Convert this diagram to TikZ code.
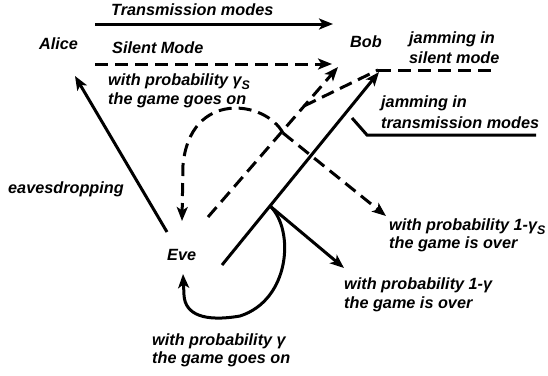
\documentclass[tikz,border=0pt]{standalone}
\usepackage{fontspec}
\setmainfont{Liberation Sans}
\usetikzlibrary{arrows.meta}
\newcommand\gSub{γ\raisebox{-4bp}{\fontsize{12.5}{12.5}\selectfont S}}
\begin{document}
\begin{tikzpicture}[x=1bp,y=-1bp,
  lbl/.style={anchor=base west, inner sep=0pt, font=\fontsize{16.3}{18}\selectfont\bfseries\itshape},
  ln/.style={line width=3bp},
  dsh/.style={ln, dash pattern=on 13bp off 7bp},
  arr/.style={-{Stealth[length=14bp,width=11bp,inset=3.5bp]}},
]
\useasboundingbox[fill=white] (0,0) rectangle (548,375);
% labels
\node[lbl] (tm) at (111,15) {Transmission modes};
\node[lbl] (alice) at (39,49) {Alice};
\node[lbl] (sm) at (112,53) {Silent Mode};
\node[lbl] (gs1) at (108,85) {with probability \gSub};
\node[lbl] (gs2) at (108,104) {the game goes on};
\node[lbl] (bob) at (350,47) {Bob};
\node[lbl] (js1) at (409,43) {jamming in};
\node[lbl] (js2) at (409,63) {silent mode};
\node[lbl] (jt1) at (381,107) {jamming in};
\node[lbl] (jt2) at (381,128) {transmission modes};
\node[lbl] (eav) at (8,193) {eavesdropping};
\node[lbl] (eve) at (167,260) {Eve};
\node[lbl] (os1) at (389,230) {with probability 1-\gSub};
\node[lbl] (os2) at (389,248) {the game is over};
\node[lbl] (o1) at (344,289) {with probability 1-γ};
\node[lbl] (o2) at (344,308) {the game is over};
\node[lbl] (g1) at (152,345) {with probability γ};
\node[lbl] (g2) at (152,363) {the game goes on};
% connector end points
\coordinate (t0) at (95,24);   \coordinate (t1) at (333,24);
\coordinate (s0) at (95,64);   \coordinate (s1) at (332,64);
\coordinate (eavS) at (167,232); \coordinate (eavE) at (75,76);
\coordinate (a0) at (208,217); \coordinate (a1) at (338,67);
\coordinate (fork) at (304,106); \coordinate (jsP) at (378,70); \coordinate (jsE) at (494,70);
\coordinate (b0) at (222,265); \coordinate (b1) at (379,72);
\coordinate (jl0) at (352,118); \coordinate (jl1) at (367,135); \coordinate (jl2) at (536,135);
\coordinate (dbr) at (283,133); \coordinate (dloopE) at (182,221); \coordinate (dover) at (386,216);
\coordinate (sbr) at (270,206); \coordinate (sover) at (344,268); \coordinate (sloopE) at (183,274);
% connectors
\draw[ln,arr] (t0) -- (t1);
\draw[dsh,arr] (s0) -- (s1);
\draw[ln,arr] (eavS) -- (eavE);
\draw[dsh,arr] (a0) -- (a1);
\draw[dsh] (fork) -- (jsP);
\draw[dsh] (jsP) -- (jsE);
\draw[ln,arr] (b0) -- (b1);
\draw[ln] (jl0) -- (jl1) -- (jl2);
\draw[dsh,arr] (dbr) .. controls (265,100) and (190,90) .. (183,165) -- (dloopE);
\draw[dsh,arr] (dbr) -- (dover);
\draw[ln,arr] (sbr) -- (sover);
\draw[ln,arr] (sbr) .. controls (295,230) and (290,300) .. (240,316) .. controls (205,322) and (185,315) .. (184,295) -- (sloopE);
\end{tikzpicture}
\end{document}
